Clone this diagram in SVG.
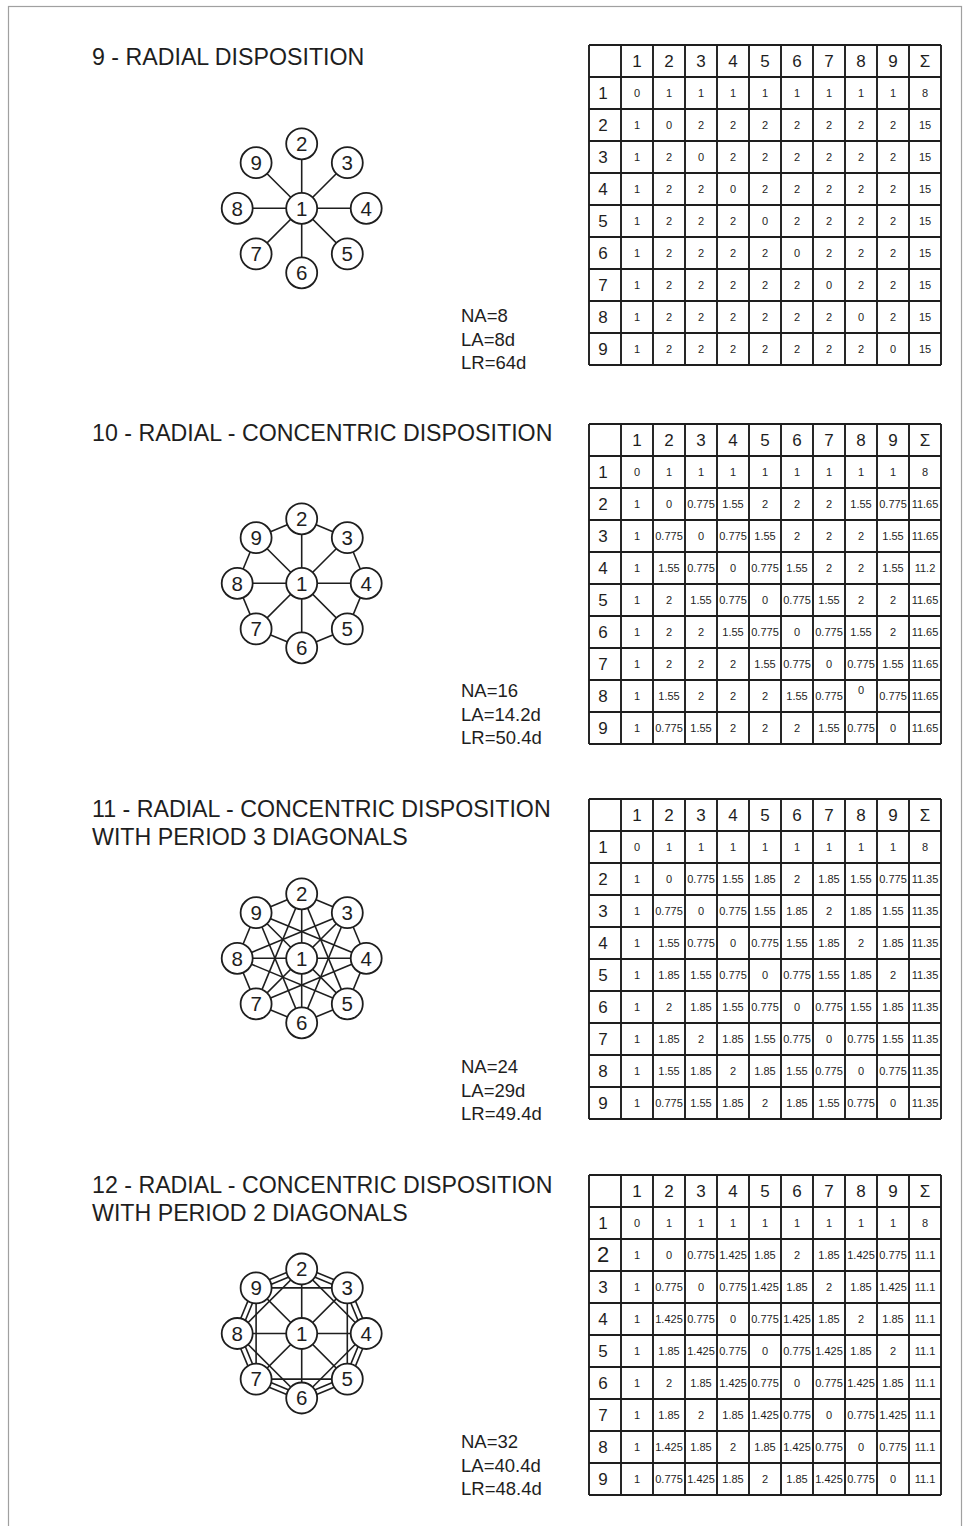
<svg xmlns="http://www.w3.org/2000/svg" xmlns:xlink="http://www.w3.org/1999/xlink" width="969" height="1526" viewBox="0 0 969 1526">
<style>
text{font-family:"Liberation Sans",Arial,sans-serif;fill:#1e1e1e}
.t{font-size:23.2px}
.m{font-size:18.5px}
.h{font-size:17px;text-anchor:middle}
.v{font-size:11px;text-anchor:middle}
.n{font-size:20.5px;text-anchor:middle}
.grid{stroke:#1e1e1e;stroke-width:1.9;fill:none}
.e line{stroke:#1e1e1e;stroke-width:1.6}
.nd circle{fill:#fff;stroke:#1e1e1e;stroke-width:1.8}
</style>
<defs>
<path id="grid" class="grid" d="M0,0h352M0,32h352M0,64h352M0,96h352M0,128h352M0,160h352M0,192h352M0,224h352M0,256h352M0,288h352M0,320h352M0,0v320M32,0v320M64,0v320M96,0v320M128,0v320M160,0v320M192,0v320M224,0v320M256,0v320M288,0v320M320,0v320M352,0v320"/>
<g id="nodes">
<g class="nd"><circle cx="0" cy="0" r="15.5"/><text class="n" x="0" y="7.3">1</text></g>
<g class="nd"><circle cx="0" cy="-64.5" r="15.5"/><text class="n" x="0" y="-57.2">2</text></g>
<g class="nd"><circle cx="45.6" cy="-45.6" r="15.5"/><text class="n" x="45.6" y="-38.3">3</text></g>
<g class="nd"><circle cx="64.5" cy="0" r="15.5"/><text class="n" x="64.5" y="7.3">4</text></g>
<g class="nd"><circle cx="45.6" cy="45.6" r="15.5"/><text class="n" x="45.6" y="52.9">5</text></g>
<g class="nd"><circle cx="0" cy="64.5" r="15.5"/><text class="n" x="0" y="71.8">6</text></g>
<g class="nd"><circle cx="-45.6" cy="45.6" r="15.5"/><text class="n" x="-45.6" y="52.9">7</text></g>
<g class="nd"><circle cx="-64.5" cy="0" r="15.5"/><text class="n" x="-64.5" y="7.3">8</text></g>
<g class="nd"><circle cx="-45.6" cy="-45.6" r="15.5"/><text class="n" x="-45.6" y="-38.3">9</text></g>
</g>
<g id="radial" class="e">
<line x1="0" y1="0" x2="0" y2="-64.5"/><line x1="0" y1="0" x2="45.6" y2="-45.6"/><line x1="0" y1="0" x2="64.5" y2="0"/><line x1="0" y1="0" x2="45.6" y2="45.6"/>
<line x1="0" y1="0" x2="0" y2="64.5"/><line x1="0" y1="0" x2="-45.6" y2="45.6"/><line x1="0" y1="0" x2="-64.5" y2="0"/><line x1="0" y1="0" x2="-45.6" y2="-45.6"/>
</g>
<g id="ring" class="e">
<line x1="0" y1="-64.5" x2="45.6" y2="-45.6"/><line x1="45.6" y1="-45.6" x2="64.5" y2="0"/><line x1="64.5" y1="0" x2="45.6" y2="45.6"/><line x1="45.6" y1="45.6" x2="0" y2="64.5"/>
<line x1="0" y1="64.5" x2="-45.6" y2="45.6"/><line x1="-45.6" y1="45.6" x2="-64.5" y2="0"/><line x1="-64.5" y1="0" x2="-45.6" y2="-45.6"/><line x1="-45.6" y1="-45.6" x2="0" y2="-64.5"/>
</g>
</defs>

<rect x="8.5" y="6.5" width="953" height="1540" fill="none" stroke="#a0a0a0" stroke-width="1.2"/>

<!-- ===== Section 9 ===== -->
<g id="sec9">
<text class="t" x="92" y="65">9 - RADIAL DISPOSITION</text>
<g id="connectors9" transform="translate(301.7,208.3)"><use xlink:href="#radial"/></g>
<g id="graph9" transform="translate(301.7,208.3)"><use xlink:href="#nodes"/></g>
<g id="metrics9"><text class="m" x="461" y="322">NA=8</text><text class="m" x="461" y="345.5">LA=8d</text><text class="m" x="461" y="369">LR=64d</text></g>
<g id="table9">
<use xlink:href="#grid" x="589" y="45"/>
<text class="h" y="67"><tspan x="637">1</tspan><tspan x="669">2</tspan><tspan x="701">3</tspan><tspan x="733">4</tspan><tspan x="765">5</tspan><tspan x="797">6</tspan><tspan x="829">7</tspan><tspan x="861">8</tspan><tspan x="893">9</tspan><tspan x="925">Σ</tspan></text>
<text class="h" x="603" y="99">1</text><text class="h" x="603" y="131">2</text><text class="h" x="603" y="163">3</text><text class="h" x="603" y="195">4</text><text class="h" x="603" y="227">5</text><text class="h" x="603" y="259">6</text><text class="h" x="603" y="291">7</text><text class="h" x="603" y="323">8</text><text class="h" x="603" y="355">9</text>
<text class="v" y="97"><tspan x="637">0</tspan><tspan x="669">1</tspan><tspan x="701">1</tspan><tspan x="733">1</tspan><tspan x="765">1</tspan><tspan x="797">1</tspan><tspan x="829">1</tspan><tspan x="861">1</tspan><tspan x="893">1</tspan><tspan x="925">8</tspan></text>
<text class="v" y="129"><tspan x="637">1</tspan><tspan x="669">0</tspan><tspan x="701">2</tspan><tspan x="733">2</tspan><tspan x="765">2</tspan><tspan x="797">2</tspan><tspan x="829">2</tspan><tspan x="861">2</tspan><tspan x="893">2</tspan><tspan x="925">15</tspan></text>
<text class="v" y="161"><tspan x="637">1</tspan><tspan x="669">2</tspan><tspan x="701">0</tspan><tspan x="733">2</tspan><tspan x="765">2</tspan><tspan x="797">2</tspan><tspan x="829">2</tspan><tspan x="861">2</tspan><tspan x="893">2</tspan><tspan x="925">15</tspan></text>
<text class="v" y="193"><tspan x="637">1</tspan><tspan x="669">2</tspan><tspan x="701">2</tspan><tspan x="733">0</tspan><tspan x="765">2</tspan><tspan x="797">2</tspan><tspan x="829">2</tspan><tspan x="861">2</tspan><tspan x="893">2</tspan><tspan x="925">15</tspan></text>
<text class="v" y="225"><tspan x="637">1</tspan><tspan x="669">2</tspan><tspan x="701">2</tspan><tspan x="733">2</tspan><tspan x="765">0</tspan><tspan x="797">2</tspan><tspan x="829">2</tspan><tspan x="861">2</tspan><tspan x="893">2</tspan><tspan x="925">15</tspan></text>
<text class="v" y="257"><tspan x="637">1</tspan><tspan x="669">2</tspan><tspan x="701">2</tspan><tspan x="733">2</tspan><tspan x="765">2</tspan><tspan x="797">0</tspan><tspan x="829">2</tspan><tspan x="861">2</tspan><tspan x="893">2</tspan><tspan x="925">15</tspan></text>
<text class="v" y="289"><tspan x="637">1</tspan><tspan x="669">2</tspan><tspan x="701">2</tspan><tspan x="733">2</tspan><tspan x="765">2</tspan><tspan x="797">2</tspan><tspan x="829">0</tspan><tspan x="861">2</tspan><tspan x="893">2</tspan><tspan x="925">15</tspan></text>
<text class="v" y="321"><tspan x="637">1</tspan><tspan x="669">2</tspan><tspan x="701">2</tspan><tspan x="733">2</tspan><tspan x="765">2</tspan><tspan x="797">2</tspan><tspan x="829">2</tspan><tspan x="861">0</tspan><tspan x="893">2</tspan><tspan x="925">15</tspan></text>
<text class="v" y="353"><tspan x="637">1</tspan><tspan x="669">2</tspan><tspan x="701">2</tspan><tspan x="733">2</tspan><tspan x="765">2</tspan><tspan x="797">2</tspan><tspan x="829">2</tspan><tspan x="861">2</tspan><tspan x="893">0</tspan><tspan x="925">15</tspan></text>
</g>
</g>

<!-- ===== Section 10 ===== -->
<g id="sec10">
<text class="t" x="92" y="441">10 - RADIAL - CONCENTRIC DISPOSITION</text>
<g id="connectors10" transform="translate(301.7,583.3)"><use xlink:href="#radial"/><use xlink:href="#ring"/></g>
<g id="graph10" transform="translate(301.7,583.3)"><use xlink:href="#nodes"/></g>
<g id="metrics10"><text class="m" x="461" y="697">NA=16</text><text class="m" x="461" y="720.5">LA=14.2d</text><text class="m" x="461" y="744">LR=50.4d</text></g>
<g id="table10">
<use xlink:href="#grid" x="589" y="424"/>
<text class="h" y="446"><tspan x="637">1</tspan><tspan x="669">2</tspan><tspan x="701">3</tspan><tspan x="733">4</tspan><tspan x="765">5</tspan><tspan x="797">6</tspan><tspan x="829">7</tspan><tspan x="861">8</tspan><tspan x="893">9</tspan><tspan x="925">Σ</tspan></text>
<text class="h" x="603" y="478">1</text><text class="h" x="603" y="510">2</text><text class="h" x="603" y="542">3</text><text class="h" x="603" y="574">4</text><text class="h" x="603" y="606">5</text><text class="h" x="603" y="638">6</text><text class="h" x="603" y="670">7</text><text class="h" x="603" y="702">8</text><text class="h" x="603" y="734">9</text>
<text class="v" y="476"><tspan x="637">0</tspan><tspan x="669">1</tspan><tspan x="701">1</tspan><tspan x="733">1</tspan><tspan x="765">1</tspan><tspan x="797">1</tspan><tspan x="829">1</tspan><tspan x="861">1</tspan><tspan x="893">1</tspan><tspan x="925">8</tspan></text>
<text class="v" y="508"><tspan x="637">1</tspan><tspan x="669">0</tspan><tspan x="701">0.775</tspan><tspan x="733">1.55</tspan><tspan x="765">2</tspan><tspan x="797">2</tspan><tspan x="829">2</tspan><tspan x="861">1.55</tspan><tspan x="893">0.775</tspan><tspan x="925">11.65</tspan></text>
<text class="v" y="540"><tspan x="637">1</tspan><tspan x="669">0.775</tspan><tspan x="701">0</tspan><tspan x="733">0.775</tspan><tspan x="765">1.55</tspan><tspan x="797">2</tspan><tspan x="829">2</tspan><tspan x="861">2</tspan><tspan x="893">1.55</tspan><tspan x="925">11.65</tspan></text>
<text class="v" y="572"><tspan x="637">1</tspan><tspan x="669">1.55</tspan><tspan x="701">0.775</tspan><tspan x="733">0</tspan><tspan x="765">0.775</tspan><tspan x="797">1.55</tspan><tspan x="829">2</tspan><tspan x="861">2</tspan><tspan x="893">1.55</tspan><tspan x="925">11.2</tspan></text>
<text class="v" y="604"><tspan x="637">1</tspan><tspan x="669">2</tspan><tspan x="701">1.55</tspan><tspan x="733">0.775</tspan><tspan x="765">0</tspan><tspan x="797">0.775</tspan><tspan x="829">1.55</tspan><tspan x="861">2</tspan><tspan x="893">2</tspan><tspan x="925">11.65</tspan></text>
<text class="v" y="636"><tspan x="637">1</tspan><tspan x="669">2</tspan><tspan x="701">2</tspan><tspan x="733">1.55</tspan><tspan x="765">0.775</tspan><tspan x="797">0</tspan><tspan x="829">0.775</tspan><tspan x="861">1.55</tspan><tspan x="893">2</tspan><tspan x="925">11.65</tspan></text>
<text class="v" y="668"><tspan x="637">1</tspan><tspan x="669">2</tspan><tspan x="701">2</tspan><tspan x="733">2</tspan><tspan x="765">1.55</tspan><tspan x="797">0.775</tspan><tspan x="829">0</tspan><tspan x="861">0.775</tspan><tspan x="893">1.55</tspan><tspan x="925">11.65</tspan></text>
<text class="v" y="700"><tspan x="637">1</tspan><tspan x="669">1.55</tspan><tspan x="701">2</tspan><tspan x="733">2</tspan><tspan x="765">2</tspan><tspan x="797">1.55</tspan><tspan x="829">0.775</tspan><tspan x="861" dy="-6">0</tspan><tspan x="893" dy="6">0.775</tspan><tspan x="925">11.65</tspan></text>
<text class="v" y="732"><tspan x="637">1</tspan><tspan x="669">0.775</tspan><tspan x="701">1.55</tspan><tspan x="733">2</tspan><tspan x="765">2</tspan><tspan x="797">2</tspan><tspan x="829">1.55</tspan><tspan x="861">0.775</tspan><tspan x="893">0</tspan><tspan x="925">11.65</tspan></text>
</g>
</g>

<!-- ===== Section 11 ===== -->
<g id="sec11">
<text class="t" x="92" y="817">11 - RADIAL - CONCENTRIC DISPOSITION</text>
<text class="t" x="92" y="845">WITH PERIOD 3 DIAGONALS</text>
<g id="connectors11" transform="translate(301.7,958.3)"><use xlink:href="#radial"/><use xlink:href="#ring"/>
<g class="e">
<line x1="0" y1="-64.5" x2="45.6" y2="45.6"/><line x1="45.6" y1="-45.6" x2="0" y2="64.5"/><line x1="64.5" y1="0" x2="-45.6" y2="45.6"/><line x1="45.6" y1="45.6" x2="-64.5" y2="0"/>
<line x1="0" y1="64.5" x2="-45.6" y2="-45.6"/><line x1="-45.6" y1="45.6" x2="0" y2="-64.5"/><line x1="-64.5" y1="0" x2="45.6" y2="-45.6"/><line x1="-45.6" y1="-45.6" x2="64.5" y2="0"/>
</g></g>
<g id="graph11" transform="translate(301.7,958.3)"><use xlink:href="#nodes"/></g>
<g id="metrics11"><text class="m" x="461" y="1073">NA=24</text><text class="m" x="461" y="1096.5">LA=29d</text><text class="m" x="461" y="1120">LR=49.4d</text></g>
<g id="table11">
<use xlink:href="#grid" x="589" y="799"/>
<text class="h" y="821"><tspan x="637">1</tspan><tspan x="669">2</tspan><tspan x="701">3</tspan><tspan x="733">4</tspan><tspan x="765">5</tspan><tspan x="797">6</tspan><tspan x="829">7</tspan><tspan x="861">8</tspan><tspan x="893">9</tspan><tspan x="925">Σ</tspan></text>
<text class="h" x="603" y="853">1</text><text class="h" x="603" y="885">2</text><text class="h" x="603" y="917">3</text><text class="h" x="603" y="949">4</text><text class="h" x="603" y="981">5</text><text class="h" x="603" y="1013">6</text><text class="h" x="603" y="1045">7</text><text class="h" x="603" y="1077">8</text><text class="h" x="603" y="1109">9</text>
<text class="v" y="851"><tspan x="637">0</tspan><tspan x="669">1</tspan><tspan x="701">1</tspan><tspan x="733">1</tspan><tspan x="765">1</tspan><tspan x="797">1</tspan><tspan x="829">1</tspan><tspan x="861">1</tspan><tspan x="893">1</tspan><tspan x="925">8</tspan></text>
<text class="v" y="883"><tspan x="637">1</tspan><tspan x="669">0</tspan><tspan x="701">0.775</tspan><tspan x="733">1.55</tspan><tspan x="765">1.85</tspan><tspan x="797">2</tspan><tspan x="829">1.85</tspan><tspan x="861">1.55</tspan><tspan x="893">0.775</tspan><tspan x="925">11.35</tspan></text>
<text class="v" y="915"><tspan x="637">1</tspan><tspan x="669">0.775</tspan><tspan x="701">0</tspan><tspan x="733">0.775</tspan><tspan x="765">1.55</tspan><tspan x="797">1.85</tspan><tspan x="829">2</tspan><tspan x="861">1.85</tspan><tspan x="893">1.55</tspan><tspan x="925">11.35</tspan></text>
<text class="v" y="947"><tspan x="637">1</tspan><tspan x="669">1.55</tspan><tspan x="701">0.775</tspan><tspan x="733">0</tspan><tspan x="765">0.775</tspan><tspan x="797">1.55</tspan><tspan x="829">1.85</tspan><tspan x="861">2</tspan><tspan x="893">1.85</tspan><tspan x="925">11.35</tspan></text>
<text class="v" y="979"><tspan x="637">1</tspan><tspan x="669">1.85</tspan><tspan x="701">1.55</tspan><tspan x="733">0.775</tspan><tspan x="765">0</tspan><tspan x="797">0.775</tspan><tspan x="829">1.55</tspan><tspan x="861">1.85</tspan><tspan x="893">2</tspan><tspan x="925">11.35</tspan></text>
<text class="v" y="1011"><tspan x="637">1</tspan><tspan x="669">2</tspan><tspan x="701">1.85</tspan><tspan x="733">1.55</tspan><tspan x="765">0.775</tspan><tspan x="797">0</tspan><tspan x="829">0.775</tspan><tspan x="861">1.55</tspan><tspan x="893">1.85</tspan><tspan x="925">11.35</tspan></text>
<text class="v" y="1043"><tspan x="637">1</tspan><tspan x="669">1.85</tspan><tspan x="701">2</tspan><tspan x="733">1.85</tspan><tspan x="765">1.55</tspan><tspan x="797">0.775</tspan><tspan x="829">0</tspan><tspan x="861">0.775</tspan><tspan x="893">1.55</tspan><tspan x="925">11.35</tspan></text>
<text class="v" y="1075"><tspan x="637">1</tspan><tspan x="669">1.55</tspan><tspan x="701">1.85</tspan><tspan x="733">2</tspan><tspan x="765">1.85</tspan><tspan x="797">1.55</tspan><tspan x="829">0.775</tspan><tspan x="861">0</tspan><tspan x="893">0.775</tspan><tspan x="925">11.35</tspan></text>
<text class="v" y="1107"><tspan x="637">1</tspan><tspan x="669">0.775</tspan><tspan x="701">1.55</tspan><tspan x="733">1.85</tspan><tspan x="765">2</tspan><tspan x="797">1.85</tspan><tspan x="829">1.55</tspan><tspan x="861">0.775</tspan><tspan x="893">0</tspan><tspan x="925">11.35</tspan></text>
</g>
</g>

<!-- ===== Section 12 ===== -->
<g id="sec12">
<text class="t" x="92" y="1193">12 - RADIAL - CONCENTRIC DISPOSITION</text>
<text class="t" x="92" y="1221">WITH PERIOD 2 DIAGONALS</text>
<g id="connectors12" transform="translate(301.7,1333.5)"><use xlink:href="#radial"/>
<g class="e">
<line x1="0.957" y1="-66.81" x2="46.57" y2="-47.92"/><line x1="-0.957" y1="-62.19" x2="44.65" y2="-43.3"/>
<line x1="47.92" y1="-46.57" x2="66.81" y2="-0.957"/><line x1="43.3" y1="-44.65" x2="62.19" y2="0.957"/>
<line x1="66.81" y1="0.957" x2="47.92" y2="46.57"/><line x1="62.19" y1="-0.957" x2="43.3" y2="44.65"/>
<line x1="46.57" y1="47.92" x2="0.957" y2="66.81"/><line x1="44.65" y1="43.3" x2="-0.957" y2="62.19"/>
<line x1="-0.957" y1="66.81" x2="-46.57" y2="47.92"/><line x1="0.957" y1="62.19" x2="-44.65" y2="43.3"/>
<line x1="-47.92" y1="46.57" x2="-66.81" y2="0.957"/><line x1="-43.3" y1="44.65" x2="-62.19" y2="-0.957"/>
<line x1="-66.81" y1="-0.957" x2="-47.92" y2="-46.57"/><line x1="-62.19" y1="0.957" x2="-43.3" y2="-44.65"/>
<line x1="-46.57" y1="-47.92" x2="-0.957" y2="-66.81"/><line x1="-44.65" y1="-43.3" x2="0.957" y2="-62.19"/>
<line x1="0" y1="-64.5" x2="64.5" y2="0"/><line x1="45.6" y1="-45.6" x2="45.6" y2="45.6"/><line x1="64.5" y1="0" x2="0" y2="64.5"/><line x1="45.6" y1="45.6" x2="-45.6" y2="45.6"/>
<line x1="0" y1="64.5" x2="-64.5" y2="0"/><line x1="-45.6" y1="45.6" x2="-45.6" y2="-45.6"/><line x1="-64.5" y1="0" x2="0" y2="-64.5"/><line x1="-45.6" y1="-45.6" x2="45.6" y2="-45.6"/>
</g></g>
<g id="graph12" transform="translate(301.7,1333.5)"><use xlink:href="#nodes"/></g>
<g id="metrics12"><text class="m" x="461" y="1448">NA=32</text><text class="m" x="461" y="1471.5">LA=40.4d</text><text class="m" x="461" y="1495">LR=48.4d</text></g>
<g id="table12">
<use xlink:href="#grid" x="589" y="1175"/>
<text class="h" y="1197"><tspan x="637">1</tspan><tspan x="669">2</tspan><tspan x="701">3</tspan><tspan x="733">4</tspan><tspan x="765">5</tspan><tspan x="797">6</tspan><tspan x="829">7</tspan><tspan x="861">8</tspan><tspan x="893">9</tspan><tspan x="925">Σ</tspan></text>
<text class="h" x="603" y="1229">1</text><text class="h" x="603" y="1262" style="font-size:22px">2</text><text class="h" x="603" y="1293">3</text><text class="h" x="603" y="1325">4</text><text class="h" x="603" y="1357">5</text><text class="h" x="603" y="1389">6</text><text class="h" x="603" y="1421">7</text><text class="h" x="603" y="1453">8</text><text class="h" x="603" y="1485">9</text>
<text class="v" y="1227"><tspan x="637">0</tspan><tspan x="669">1</tspan><tspan x="701">1</tspan><tspan x="733">1</tspan><tspan x="765">1</tspan><tspan x="797">1</tspan><tspan x="829">1</tspan><tspan x="861">1</tspan><tspan x="893">1</tspan><tspan x="925">8</tspan></text>
<text class="v" y="1259"><tspan x="637">1</tspan><tspan x="669">0</tspan><tspan x="701">0.775</tspan><tspan x="733">1.425</tspan><tspan x="765">1.85</tspan><tspan x="797">2</tspan><tspan x="829">1.85</tspan><tspan x="861">1.425</tspan><tspan x="893">0.775</tspan><tspan x="925">11.1</tspan></text>
<text class="v" y="1291"><tspan x="637">1</tspan><tspan x="669">0.775</tspan><tspan x="701">0</tspan><tspan x="733">0.775</tspan><tspan x="765">1.425</tspan><tspan x="797">1.85</tspan><tspan x="829">2</tspan><tspan x="861">1.85</tspan><tspan x="893">1.425</tspan><tspan x="925">11.1</tspan></text>
<text class="v" y="1323"><tspan x="637">1</tspan><tspan x="669">1.425</tspan><tspan x="701">0.775</tspan><tspan x="733">0</tspan><tspan x="765">0.775</tspan><tspan x="797">1.425</tspan><tspan x="829">1.85</tspan><tspan x="861">2</tspan><tspan x="893">1.85</tspan><tspan x="925">11.1</tspan></text>
<text class="v" y="1355"><tspan x="637">1</tspan><tspan x="669">1.85</tspan><tspan x="701">1.425</tspan><tspan x="733">0.775</tspan><tspan x="765">0</tspan><tspan x="797">0.775</tspan><tspan x="829">1.425</tspan><tspan x="861">1.85</tspan><tspan x="893">2</tspan><tspan x="925">11.1</tspan></text>
<text class="v" y="1387"><tspan x="637">1</tspan><tspan x="669">2</tspan><tspan x="701">1.85</tspan><tspan x="733">1.425</tspan><tspan x="765">0.775</tspan><tspan x="797">0</tspan><tspan x="829">0.775</tspan><tspan x="861">1.425</tspan><tspan x="893">1.85</tspan><tspan x="925">11.1</tspan></text>
<text class="v" y="1419"><tspan x="637">1</tspan><tspan x="669">1.85</tspan><tspan x="701">2</tspan><tspan x="733">1.85</tspan><tspan x="765">1.425</tspan><tspan x="797">0.775</tspan><tspan x="829">0</tspan><tspan x="861">0.775</tspan><tspan x="893">1.425</tspan><tspan x="925">11.1</tspan></text>
<text class="v" y="1451"><tspan x="637">1</tspan><tspan x="669">1.425</tspan><tspan x="701">1.85</tspan><tspan x="733">2</tspan><tspan x="765">1.85</tspan><tspan x="797">1.425</tspan><tspan x="829">0.775</tspan><tspan x="861">0</tspan><tspan x="893">0.775</tspan><tspan x="925">11.1</tspan></text>
<text class="v" y="1483"><tspan x="637">1</tspan><tspan x="669">0.775</tspan><tspan x="701">1.425</tspan><tspan x="733">1.85</tspan><tspan x="765">2</tspan><tspan x="797">1.85</tspan><tspan x="829">1.425</tspan><tspan x="861">0.775</tspan><tspan x="893">0</tspan><tspan x="925">11.1</tspan></text>
</g>
</g>
</svg>
